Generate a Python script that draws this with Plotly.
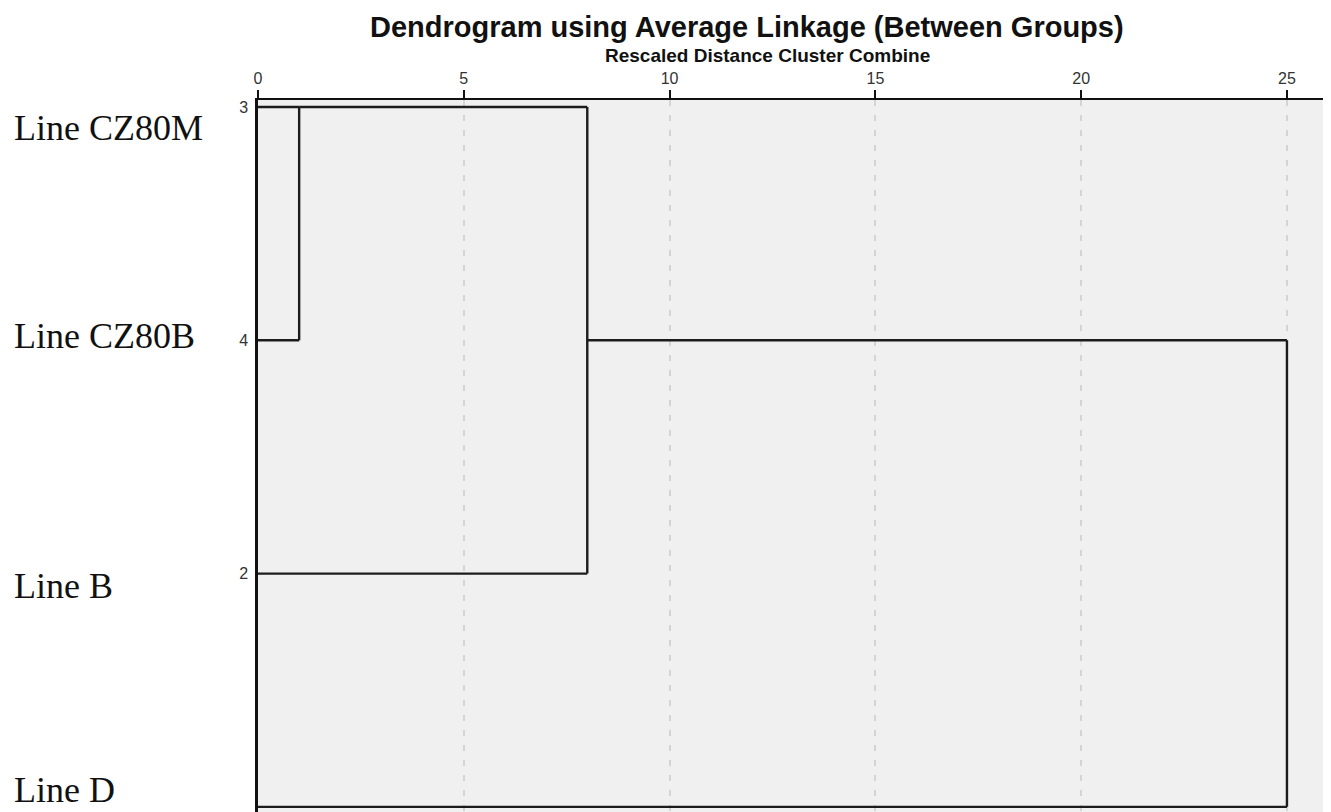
import math
import plotly.graph_objects as go

# ---- data ----
leaf_ids = [3, 4, 2, 1]                      # top-to-bottom order of leaves
leaf_names = ["Line CZ80M", "Line CZ80B", "Line B", "Line D"]
stage_a = [3, 3, 1]                          # agglomeration schedule: cluster combined
stage_b = [4, 2, 3]                          # with cluster
stage_height = [1.0, 8.0, 25.0]              # rescaled distance
x_ticks = [0, 5, 10, 15, 20, 25]

# ---- build dendrogram segments from the schedule ----
pos = {lid: i for i, lid in enumerate(leaf_ids)}
cur_x = {lid: 0.0 for lid in leaf_ids}
xs, ys = [], []
for a, b, h in zip(stage_a, stage_b, stage_height):
    pa, pb = pos[a], pos[b]
    for c, p in ((a, pa), (b, pb)):
        xs += [cur_x[c], h, None]
        ys += [p, p, None]
    xs += [h, h, None]
    ys += [min(pa, pb), max(pa, pb), None]
    newp = math.floor((pa + pb) / 2)
    pos[a] = newp
    cur_x[a] = h

fig = go.Figure()
fig.add_trace(go.Scatter(x=xs, y=ys, mode="lines",
                         line=dict(color="#1c1c1c", width=2.4),
                         hoverinfo="skip", showlegend=False))

OFF = 8                      # page body margin
W, H = 1331 - OFF, 812 - OFF
ML, MT = 258 - OFF, 100 - OFF
pw, ph = W - ML, H - MT

fig.update_layout(
    width=W, height=H,
    margin=dict(l=ML, r=0, t=MT, b=0, pad=0),
    paper_bgcolor="white", plot_bgcolor="#f0f0f0",
    showlegend=False,
    xaxis=dict(side="top", range=[0, 26.07], tickvals=x_ticks,
               ticktext=[str(t) for t in x_ticks],
               ticks="outside", ticklen=8, tickwidth=2, tickcolor="#111",
               showline=True, linewidth=2, linecolor="#111",
               showgrid=True, gridcolor="#d4d4d4", gridwidth=1.5,
               griddash="6px,9px", zeroline=False,
               tickfont=dict(family="Liberation Sans, Arial", size=16, color="#333")),
    yaxis=dict(range=[3.022, -0.030], tickvals=list(range(len(leaf_ids))),
               ticktext=[str(v) for v in leaf_ids], ticks="",
               showline=True, linewidth=2.5, linecolor="#111",
               showgrid=False, zeroline=False, ticklabelstandoff=4,
               tickfont=dict(family="Liberation Sans, Arial", size=16, color="#333")),
)

# title and subtitle (positions given in page pixels)
def px_x(x):
    return (x - OFF - ML) / pw

def px_y(y):
    return 1 + (MT - (y - OFF)) / ph

fig.add_annotation(text="<b>Dendrogram using Average Linkage (Between Groups)</b>",
                   xref="paper", yref="paper", x=px_x(747), y=px_y(27),
                   xanchor="center", yanchor="middle", showarrow=False,
                   font=dict(family="Liberation Sans, Arial", size=29, color="#111"))
fig.add_annotation(text="<b>Rescaled Distance Cluster Combine</b>",
                   xref="paper", yref="paper", x=px_x(767), y=px_y(56),
                   xanchor="center", yanchor="middle", showarrow=False,
                   font=dict(family="Liberation Sans, Arial", size=19, color="#111"))

# leaf names on the left
label_shift = [-21, 4, -12, 17]
for i, (name, s) in enumerate(zip(leaf_names, label_shift)):
    fig.add_annotation(text=name, xref="paper", yref="y",
                       x=px_x(12), y=i, yshift=s,
                       xanchor="left", yanchor="middle", showarrow=False,
                       font=dict(family="Liberation Serif, Times New Roman", size=36,
                                 color="#111"))

fig.write_html("out.html")
